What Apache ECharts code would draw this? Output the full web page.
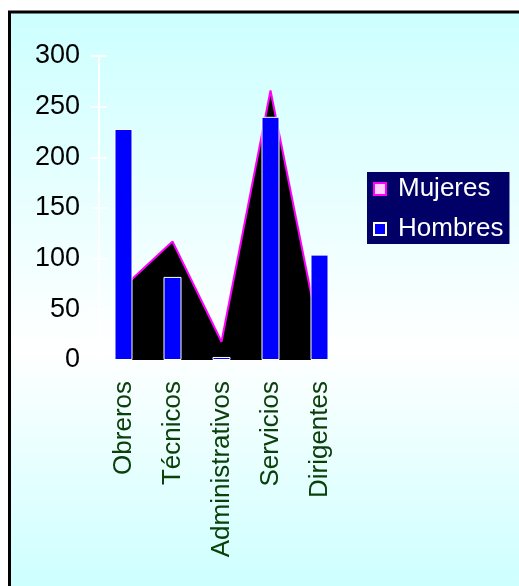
<!DOCTYPE html>
<html>
<head>
<meta charset="utf-8">
<script src="https://cdn.jsdelivr.net/npm/echarts@6/dist/echarts.min.js"></script>
<style>
html,body{margin:0;padding:0;background:#fff;}
#c{width:519px;height:586px;}
</style>
</head>
<body>
<div id="c"></div>
<script>
var categories = ['Obreros', 'Técnicos', 'Administrativos', 'Servicios', 'Dirigentes'];
var mujeres = [72, 117, 18, 266, 24];
var hombres = [228, 82, 3, 240, 104];
var yTicks = [0, 50, 100, 150, 200, 250, 300];

var chart = echarts.init(document.getElementById('c'), null, {renderer: 'canvas'});
var font = 'Liberation Sans, Arial, sans-serif';
chart.setOption({
  animation: false,
  graphic: [{
    type: 'rect', z: -10, silent: true,
    shape: {x: 9.5, y: 12, width: 520, height: 580},
    style: {
      stroke: '#000', lineWidth: 3,
      fill: {type: 'linear', x: 0, y: 0, x2: 0, y2: 1, colorStops: [
        {offset: 0, color: '#ccffff'},
        {offset: 0.58, color: '#ffffff'},
        {offset: 1, color: '#ccffff'}
      ]}
    }
  }],
  grid: {left: 99, top: 56, right: 175, bottom: 226, outerBoundsMode: 'none'},
  legend: {
    orient: 'vertical', left: 367, top: 172,
    backgroundColor: '#000066',
    padding: [4, 6, 2, 6],
    itemGap: 14, itemWidth: 12, itemHeight: 12,
    textStyle: {color: '#fff', fontSize: 26, fontFamily: font, padding: [0, 0, 0, 7]},
    data: [
      {name: 'Mujeres', icon: 'rect', itemStyle: {color: '#ffd0ff', borderColor: '#ff00ff', borderWidth: 2}},
      {name: 'Hombres', icon: 'rect', itemStyle: {color: '#0000ff', borderColor: '#ffffff', borderWidth: 2}}
    ]
  },
  xAxis: {
    type: 'category', data: categories, boundaryGap: true,
    axisLine: {lineStyle: {color: '#fff', width: 1}},
    axisTick: {inside: true, length: 7, lineStyle: {color: '#fff', width: 2}},
    axisLabel: {rotate: 90, margin: 21, color: '#0a400a', fontSize: 26, fontFamily: font},
    splitLine: {show: false}
  },
  yAxis: [{
    type: 'value', min: yTicks[0], max: yTicks[yTicks.length - 1], interval: 50,
    axisLine: {show: true, lineStyle: {color: '#fff', width: 2}},
    axisTick: {show: true, length: 8, lineStyle: {color: '#fff', width: 2}},
    axisLabel: {margin: 19, color: '#000', fontSize: 27, fontFamily: font, padding: [5, 0, 0, 0]},
    splitLine: {show: false}
  }, {
    type: 'value', position: 'left', min: yTicks[0], max: yTicks[yTicks.length - 1], interval: 50,
    axisLine: {show: false},
    axisTick: {show: true, inside: true, length: 8, lineStyle: {color: '#fff', width: 2}},
    axisLabel: {show: false},
    splitLine: {show: false}
  }],
  series: [{
    name: 'Mujeres', type: 'line', data: mujeres, symbol: 'none', z: 2,
    lineStyle: {color: '#ff00ff', width: 2},
    itemStyle: {color: '#ff00ff'},
    areaStyle: {color: '#000000', opacity: 1}
  }, {
    name: 'Hombres', type: 'bar', data: hombres, barWidth: 18, z: 3,
    itemStyle: {color: '#0000ff', borderColor: '#ffffff', borderWidth: 1}
  }]
});
</script>
</body>
</html>
